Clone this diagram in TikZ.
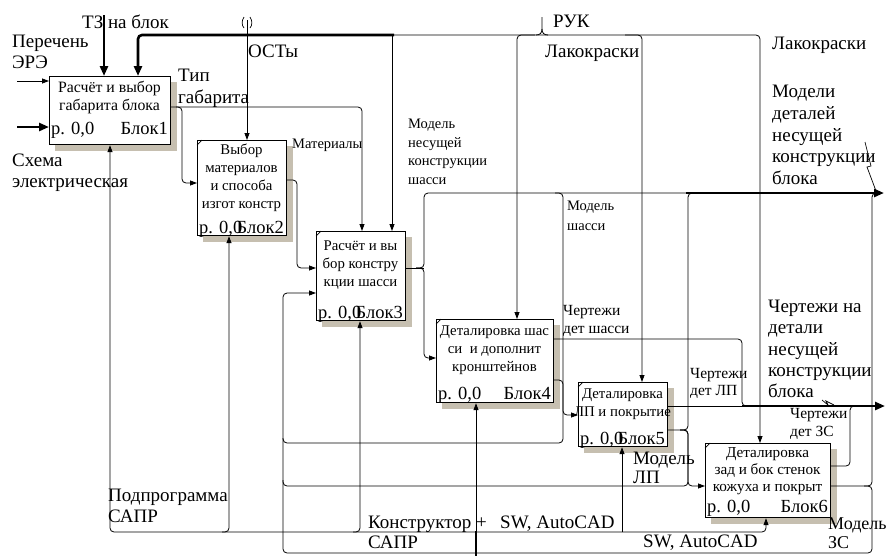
\documentclass[tikz,border=0pt]{standalone}
\usepackage{fontspec}
\setmainfont{Liberation Serif}
\usetikzlibrary{arrows.meta}
\definecolor{shadowc}{RGB}{198,191,176}
\begin{document}
\begin{tikzpicture}[x=1pt,y=-1pt,
  conn/.style={draw=black, line width=0.8pt, rounded corners=4pt},
  thk/.style={draw=black, line width=2.6pt, rounded corners=4pt},
  arr/.style={-{Triangle[length=7pt,width=5pt]}},
  arrb/.style={-{Triangle[length=10pt,width=8pt]}},
  blk/.style={draw=black, line width=1.2pt, fill=white, anchor=north west, inner sep=0pt},
  big/.style={font=\fontsize{19}{21}\selectfont, anchor=north west, inner sep=0pt, align=left},
  sml/.style={font=\fontsize{14.5}{18.5}\selectfont, anchor=north west, inner sep=0pt, align=left},
  btxt/.style={font=\fontsize{14.8}{18}\selectfont, anchor=north, inner sep=0pt, align=center},
  numl/.style={font=\fontsize{18.5}{21}\selectfont, inner sep=0pt, anchor=base west},
  numr/.style={font=\fontsize{18.5}{21}\selectfont, inner sep=0pt, anchor=base east},
]
\useasboundingbox (0,0) rectangle (889,555);
\fill[white] (0,0) rectangle (889,555);

% ---- shadows and blocks
\fill[shadowc] (55,82) rectangle (177,151);
\node[blk, minimum width=121pt, minimum height=68pt] (b1) at (49,76) {};
\fill[shadowc] (203,146) rectangle (293,242);
\node[blk, minimum width=89pt, minimum height=95pt] (b2) at (197,140) {};
\fill[shadowc] (322,237) rectangle (412,327);
\node[blk, minimum width=89pt, minimum height=89pt] (b3) at (316,231) {};
\fill[shadowc] (442,325) rectangle (560,409);
\node[blk, minimum width=117pt, minimum height=83pt] (b4) at (436,319) {};
\fill[shadowc] (584,388) rectangle (674,453);
\node[blk, minimum width=89pt, minimum height=64pt] (b5) at (578,382) {};
\fill[shadowc] (711,449) rectangle (837,524);
\node[blk, minimum width=125pt, minimum height=74pt] (b6) at (705,443) {};
\foreach \b in {b2,b3,b4,b5,b6}{
  \draw[line width=0.7pt] ([yshift=-5pt]\b.north west) -- ([xshift=5pt]\b.north west);
}

% ---- block texts
\node[btxt, font=\fontsize{15.8}{18}\selectfont] (t1) at (109.5,81) {Расчёт и выбор\\габарита блока};
\node[numl] (n1) at (51,134) {р. 0,0};
\node[numr] (k1) at (168,134) {Блок1};
\node[btxt] (t2) at (241.5,144) {Выбор\\материалов\\и способа\\изгот констр};
\node[numl] (n2) at (199,233) {р. 0,0};
\node[numr] (k2) at (284,233) {Блок2};
\node[btxt] (t3) at (360.5,241) {Расчёт и вы\\бор констру\\кции шасси};
\node[numl] (n3) at (318,318) {р. 0,0};
\node[numr] (k3) at (403,318) {Блок3};
\node[btxt] (t4) at (494.5,326) {Деталировка шас\\си\ \ и дополнит\\кронштейнов};
\node[numl] (n4) at (438,399) {р. 0,0};
\node[numr] (k4) at (551,399) {Блок4};
\node[btxt] (t5) at (622.5,389) {Деталировка\\ЛП и покрытие};
\node[numl] (n5) at (580,444) {р. 0,0};
\node[numr] (k5) at (665,444) {Блок5};
\node[btxt, font=\fontsize{15.2}{17}\selectfont] (t6) at (767.5,447) {Деталировка\\зад и бок стенок\\кожуха и покрыт};
\node[numl] (n6) at (707,512) {р. 0,0};
\node[numr] (k6) at (828,512) {Блок6};

% ---- controls from top
\draw[thk,arrb] (104,15) -- (104,0 |- b1.north);
\draw[thk,arrb] (394,35) -- (138,35) -- (138,0 |- b1.north);
\draw[conn,arr] (392,35) -- (760,35) -- (760,0 |- b6.north);
\draw[conn,arr] (392,35) -- (392,0 |- b3.north);
\draw[conn,arr] (535,35) -- (517,35) -- (517,0 |- b4.north);
\draw[conn,arr] (625,35) -- (642,35) -- (642,0 |- b5.north);
\coordinate (ruk) at (542,17);
\draw[line width=0.8pt] (ruk) -- (542,29) .. controls (542,33) and (540,35) .. (536,35);
\draw[line width=0.8pt] (542,29) .. controls (542,33) and (544,35) .. (548,35);
\draw[conn,arr] (247,20) -- (247,0 |- b2.north);
\draw[line width=0.7pt] (244,17) .. controls (241.5,21) and (241.5,25) .. (244,28);
\draw[line width=0.7pt] (250,17) .. controls (252.5,21) and (252.5,25) .. (250,28);

% ---- inputs to block 1
\draw[conn,arr] (17,81) -- (b1.west |- 0,81);
\draw[thk,arrb] (17,127) -- (b1.west |- 0,127);

% ---- block 1 outputs
\draw[conn,arr] (b1.east |- 0,107) -- (362,107) -- (362,0 |- b3.north);
\draw[conn,arr] (176,107) -- (182,107) -- (182,183) -- (b2.west |- 0,183);
% ---- block 2 output
\draw[conn,arr] (b2.east |- 0,180) -- (297,180) -- (297,268) -- (b3.west |- 0,268);
% ---- block 3 outputs
\draw[conn] (b3.east |- 0,268) -- (424,268);
\draw[conn] (416,268) -- (424,268) -- (424,193) -- (688,193);
\draw[conn,arr] (416,268) -- (424,268) -- (424,358) -- (b4.west |- 0,358);
\draw[thk,arrb] (686,193) -- (884,193);
\draw[conn,arr] (555,193) -- (563,193) -- (563,443) -- (283,443) -- (283,293) -- (b3.west |- 0,293);
% ---- block 4 outputs
\draw[conn] (b4.east |- 0,339) -- (742,339) -- (742,406) -- (750,406);
\draw[conn,arr] (b4.east |- 0,380) -- (563,380) -- (563,415) -- (b5.west |- 0,415);
% ---- block 5 outputs
\draw[conn] (b5.east |- 0,406) -- (744,406);
\draw[thk,arrb] (742,406) -- (885,406);
\draw[conn] (b5.east |- 0,430) -- (688,430) -- (688,193) -- (696,193);
\draw[conn,arr] (680,430) -- (688,430) -- (688,486) -- (b6.west |- 0,486);
\draw[conn] (680,430) -- (688,430) -- (688,486) -- (283,486) -- (283,438);
% ---- block 6 outputs
\draw[conn] (b6.east |- 0,466) -- (850,466) -- (850,406) -- (858,406);
\draw[conn] (b6.east |- 0,486) -- (872,486) -- (872,193) -- (880,193);
\draw[conn] (864,486) -- (872,486) -- (872,553) -- (283,553) -- (283,480);

% ---- mechanisms
\draw[conn,{Triangle[length=7pt,width=5pt]}-{Triangle[length=7pt,width=5pt]}] (110,0 |- b1.south) -- (110,532) -- (766,532) -- (766,0 |- b6.south);
\draw[conn,arr] (222,532) -- (229,532) -- (229,0 |- b2.south);
\draw[conn,arr] (353,532) -- (360,532) -- (360,0 |- b3.south);
\draw[conn,arr] (476,532) -- (476,0 |- b4.south);
\draw[conn,arr] (622,532) -- (622,0 |- b5.south);
\draw[thk] (476,556) -- (476,531);

% ---- squiggles
\draw[line width=0.7pt] (865,142) -- (871,166) -- (867,167) -- (876,191);
\draw[line width=0.7pt] (822,400) -- (828,405) -- (826,401) -- (834,405);

% ---- labels
\node[big] (lTZ) at (82,15) {ТЗ на блок};
\node[big] (lOST) at (248,45) {ОСТы};
\node[big] (lRUK) at (553,15) {РУК};
\node[big] (lPER) at (12,35) {Перечень\\ЭРЭ};
\node[big] (lSCH) at (12,154) {Схема\\электрическая};
\node[big, font=\fontsize{19}{22}\selectfont] (lTIP) at (178,69) {Тип\\габарита};
\node[sml] (lMAT) at (292,139) {Материалы};
\node[sml] (lMNK) at (408,119) {Модель\\несущей\\конструкции\\шасси};
\node[big] (lLK1) at (545,45) {Лакокраски};
\node[big] (lLK2) at (772,37) {Лакокраски};
\node[big, font=\fontsize{19}{21.7}\selectfont] (lMDN) at (772,85) {Модели\\деталей\\несущей\\конструкции\\блока};
\node[sml, font=\fontsize{14.5}{20}\selectfont] (lMSH) at (567,201) {Модель\\шасси};
\node[sml, font=\fontsize{15.5}{18}\selectfont] (lCDS) at (563,305) {Чертежи\\дет шасси};
\node[big, font=\fontsize{19}{21.3}\selectfont] (lCND) at (768,300) {Чертежи на\\детали\\несущей\\конструкции\\блока};
\node[sml, font=\fontsize{15.5}{17}\selectfont] (lCLP) at (690,368) {Чертежи\\дет ЛП};
\node[sml, font=\fontsize{15.5}{18}\selectfont] (lCZS) at (790,408) {Чертежи\\дет ЗС};
\node[big, font=\fontsize{19}{19}\selectfont] (lMLP) at (633,452) {Модель\\ЛП};
\node[big] (lPOD) at (108,489) {Подпрограмма\\САПР};
\node[big, font=\fontsize{19}{19.5}\selectfont] (lKON) at (368,516) {Конструктор +\\САПР};
\node[big] (lSW1) at (500,516) {SW, AutoCAD};
\node[big] (lSW2) at (643,535) {SW, AutoCAD};
\node[big, font=\fontsize{18}{18.5}\selectfont] (lMZS) at (828,518) {Модель\\ЗС};
\end{tikzpicture}
\end{document}
